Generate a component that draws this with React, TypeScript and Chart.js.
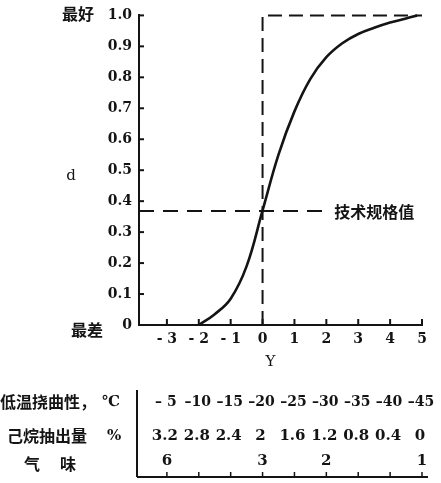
import { useEffect, useRef } from "react";
import { Chart, registerables } from "chart.js";

Chart.register(...registerables);

// Desirability curve d(Y)
const curveY = [-2, -1.5, -1, -0.5, 0, 0.5, 1, 1.5, 2, 2.5, 3, 3.5, 4, 4.5, 4.85];
const curveD = [0, 0.035, 0.085, 0.19, 0.37, 0.55, 0.69, 0.795, 0.865, 0.91, 0.94, 0.96, 0.977, 0.99, 1.0];

// Step outline: Y = 0 up to d = 1, then along d = 1
const stepY = [0, 0, 5];
const stepD = [0, 1, 1];

// Specification level
const specD = 0.368;
const specFromY = -3.875;
const specToY = 2.0;
const specLabel = "技术规格值";

// Axes
const xMin = -3.875;
const xMax = 5;
const xTicks = [-3, -2, -1, 0, 1, 2, 3, 4, 5];
const xTickLabels = ["- 3", "- 2", "- 1", "0", "1", "2", "3", "4", "5"];
const yTicks = [0, 0.1, 0.2, 0.3, 0.4, 0.5, 0.6, 0.7, 0.8, 0.9, 1.0];
const yTickLabels = ["0", "0.1", "0.2", "0.3", "0.4", "0.5", "0.6", "0.7", "0.8", "0.9", "1.0"];
const yTitle = "d";
const xTitle = "Y";
const bestLabel = "最好";
const worstLabel = "最差";

// Property scales aligned with Y
const flexName = "低温挠曲性，";
const flexUnit = "℃";
const flexTemps = ["– 5", "–10", "–15", "–20", "–25", "–30", "–35", "–40", "–45"];
const hexaneName = "己烷抽出量";
const hexaneUnit = "%";
const hexaneExtract = ["3.2", "2.8", "2.4", "2", "1.6", "1.2", "0.8", "0.4", "0"];
const odourName = ["气", "味"];
const odourGrades = ["6", "", "", "3", "", "2", "", "", "1"];

const INK = "#141414";
const NUM_FONT = "'DejaVu Serif', 'Liberation Serif', serif";
const CJK_FONT = "'Noto Sans CJK SC', 'Noto Sans', sans-serif";

const decorations = {
  id: "decorations",
  afterDraw(chart: any) {
    const { ctx, chartArea } = chart;
    const x = chart.scales.x;
    const y = chart.scales.y;
    const line = (x1: number, y1: number, x2: number, y2: number) => {
      ctx.beginPath();
      ctx.moveTo(x1, y1);
      ctx.lineTo(x2, y2);
      ctx.stroke();
    };
    ctx.save();
    ctx.strokeStyle = INK;
    ctx.fillStyle = INK;
    ctx.lineWidth = 2;
    ctx.setLineDash([]);

    // inward tick marks
    yTicks.forEach((v) => {
      if (v === 0) return;
      const py = y.getPixelForValue(v);
      line(chartArea.left, py, chartArea.left + 5, py);
    });
    xTicks.forEach((v) => {
      const px = x.getPixelForValue(v);
      line(px, chartArea.bottom, px, chartArea.bottom - 6);
    });

    // CJK labels
    ctx.font = `bold 16px ${CJK_FONT}`;
    ctx.textBaseline = "middle";
    ctx.textAlign = "left";
    ctx.fillText(bestLabel, 62, y.getPixelForValue(1) - 1);
    ctx.fillText(worstLabel, 71, y.getPixelForValue(0) + 5);
    const specPx = x.getPixelForValue(specToY);
    ctx.fillText(specLabel, specPx + 8, y.getPixelForValue(specD) + 1);

    // axis titles
    ctx.font = `15px ${NUM_FONT}`;
    ctx.textAlign = "center";
    ctx.fillText(yTitle, 71, 176);
    ctx.fillText(xTitle, x.getPixelForValue(0.25), 362);

    // property table
    const rowY = [402, 436, 464];
    const tableLeft = 137;
    const tableBottom = 477;
    ctx.font = `bold 16px ${CJK_FONT}`;
    ctx.textAlign = "left";
    ctx.fillText(flexName, 0, rowY[0]);
    ctx.fillText(hexaneName, 7, rowY[1]);
    ctx.fillText(odourName[0], 24, rowY[2]);
    ctx.fillText(odourName[1], 60, rowY[2]);
    ctx.font = `bold 15px ${NUM_FONT}`;
    ctx.fillText(flexUnit, 102, rowY[0]);
    ctx.fillText(hexaneUnit, 107, rowY[1]);

    ctx.textAlign = "center";
    xTicks.forEach((v, i) => {
      const px = x.getPixelForValue(v);
      ctx.font = `bold 14px ${NUM_FONT}`;
      ctx.fillText(flexTemps[i], px - 1, rowY[0]);
      ctx.font = `bold 15px ${NUM_FONT}`;
      ctx.fillText(hexaneExtract[i], px - 2, rowY[1]);
      if (odourGrades[i]) ctx.fillText(odourGrades[i], px, rowY[2] - 3);
    });

    ctx.lineWidth = 2;
    line(tableLeft, 390, tableLeft, tableBottom);
    line(tableLeft, tableBottom, x.getPixelForValue(xMax) + 6, tableBottom);
    ctx.lineWidth = 1.5;
    xTicks.forEach((v) => {
      const px = x.getPixelForValue(v);
      line(px, tableBottom, px, tableBottom - 5);
    });
    ctx.restore();
  },
};

export default function App() {
  const canvasRef = useRef<HTMLCanvasElement | null>(null);

  useEffect(() => {
    const canvas = canvasRef.current;
    if (!canvas) return;
    const chart = new Chart(canvas, {
      type: "line",
      data: {
        datasets: [
          {
            data: curveY.map((v, i) => ({ x: v, y: curveD[i] })),
            borderColor: INK,
            borderWidth: 2.6,
            pointRadius: 0,
            tension: 0.4,
            clip: false,
          },
          {
            data: stepY.map((v, i) => ({ x: v, y: stepD[i] })),
            borderColor: INK,
            borderWidth: 2,
            borderDash: [14, 7],
            pointRadius: 0,
            tension: 0,
            clip: false,
          },
          {
            data: [
              { x: specFromY, y: specD },
              { x: specToY, y: specD },
            ],
            borderColor: INK,
            borderWidth: 2,
            borderDash: [15, 9],
            pointRadius: 0,
            tension: 0,
            clip: false,
          },
        ],
      },
      options: {
        animation: false,
        responsive: false,
        devicePixelRatio: 1,
        layout: { padding: { left: 0, top: 15, right: 19, bottom: 128 } },
        plugins: { legend: { display: false }, tooltip: { enabled: false } },
        scales: {
          x: {
            type: "linear",
            min: xMin,
            max: xMax,
            afterBuildTicks: (s: any) => {
              s.ticks = xTicks.map((value) => ({ value }));
            },
            afterFit: (s: any) => {
              s.height = 30;
            },
            ticks: {
              autoSkip: false,
              maxRotation: 0,
              padding: 6,
              color: INK,
              font: { family: NUM_FONT, size: 14, weight: "bold" },
              callback: (_v: any, i: number) => xTickLabels[i],
            },
            grid: { drawOnChartArea: false, drawTicks: false },
            border: { color: INK, width: 2 },
          },
          y: {
            min: 0,
            max: 1,
            afterBuildTicks: (s: any) => {
              s.ticks = yTicks.map((value) => ({ value }));
            },
            afterFit: (s: any) => {
              s.width = 139;
            },
            ticks: {
              autoSkip: false,
              padding: 7,
              color: INK,
              font: { family: NUM_FONT, size: 14, weight: "bold" },
              callback: (_v: any, i: number) => yTickLabels[i],
            },
            grid: { drawOnChartArea: false, drawTicks: false },
            border: { color: INK, width: 2 },
          },
        },
      },
      plugins: [decorations],
    } as any);
    return () => chart.destroy();
  }, []);

  return (
    <div style={{ position: "fixed", left: 0, top: 0, width: 441, height: 483, background: "#fff" }}>
      <canvas ref={canvasRef} width={441} height={483} style={{ display: "block" }} />
    </div>
  );
}
